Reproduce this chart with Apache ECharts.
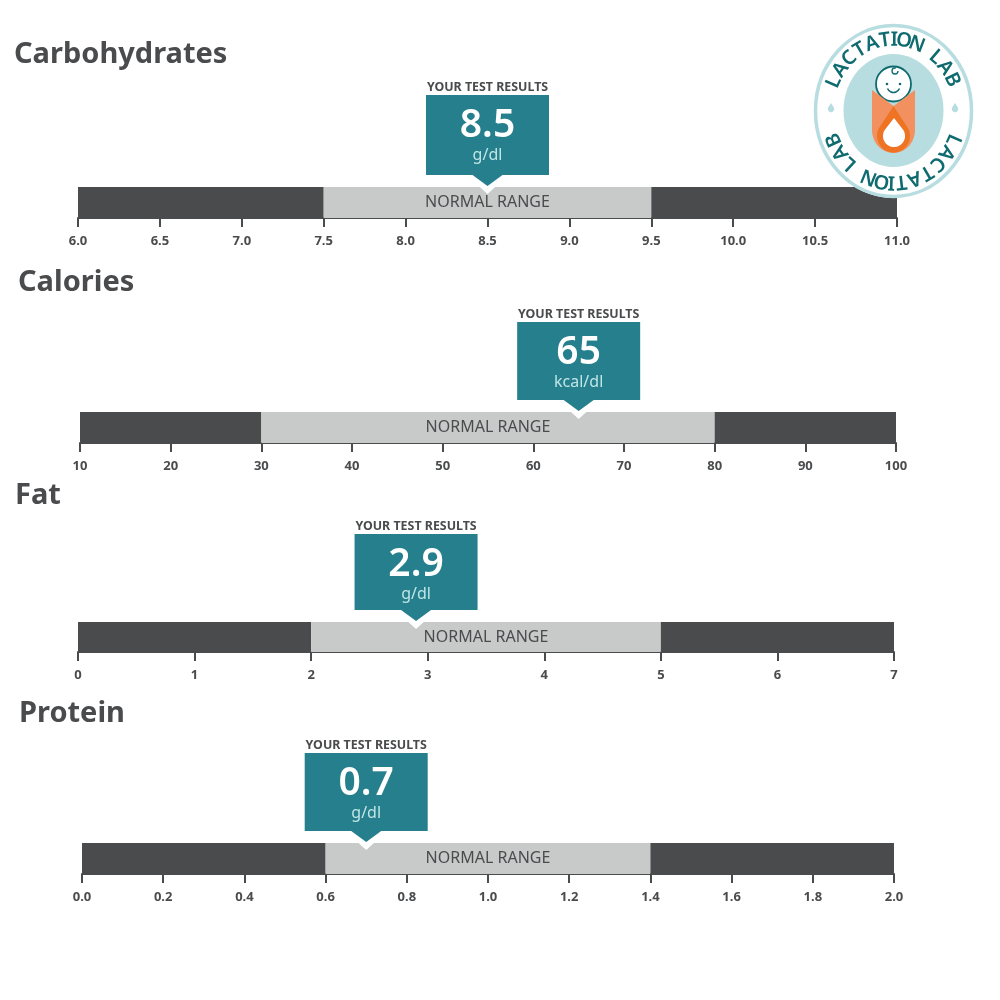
<!DOCTYPE html>
<html><head><meta charset="utf-8">
<style>html,body{margin:0;padding:0;background:#fff}#c{width:1000px;height:1000px}</style>
<script src="https://cdn.jsdelivr.net/npm/echarts@6/dist/echarts.min.js"></script>
</head><body><div id="c"></div>
<script>
const titles = ['Carbohydrates','Calories','Fat','Protein'];
const axisMin = [6,10,0,0];
const axisMax = [11,100,7,2];
const intervals = [0.5,10,1,0.2];
const decimals = [1,0,0,1];
const normalLow = [7.5,30,2,0.6];
const normalHigh = [9.5,80,5,1.4];
const results = [8.5,65,2.9,0.7];
const resultLabels = ['8.5','65','2.9','0.7'];
const units = ['g/dl','kcal/dl','g/dl','g/dl'];
const RESULT_TITLE = 'YOUR TEST RESULTS';
const RANGE_LABEL = 'NORMAL RANGE';
const LOGO_TEXT = 'LACTATION LAB';

const gridLeft = [78,80,78,82], gridRight = [897,896,894,894];
const gridTop = [187,412,622,843], gridH = [31,31,30,31];
const boxH = [80,78,76,78];
const titleX = [14,18,15,19], titleY = [55,283,496,714];
const DARK='#4a4b4d', LIGHT='#c7cac9', TEAL='#267f8c', PALE='#bfe6e6', FONT='"Noto Sans"';

const grid=[],xAxis=[],yAxis=[],series=[],title=[];
titles.forEach((t,i)=>{
  grid.push({left:gridLeft[i],top:gridTop[i],width:gridRight[i]-gridLeft[i],height:gridH[i]});
  xAxis.push({gridIndex:i,type:'value',min:axisMin[i],max:axisMax[i],interval:intervals[i],
    position:'bottom',
    splitLine:{show:false},
    axisLine:{show:true,onZero:false,lineStyle:{color:DARK,width:2}},
    axisTick:{show:true,length:9,lineStyle:{color:DARK,width:2}},
    axisLabel:{color:DARK,fontFamily:FONT,fontWeight:700,fontSize:13,margin:17,showMinLabel:true,showMaxLabel:true,
      hideOverlap:false,formatter:v=>v.toFixed(decimals[i])}});
  yAxis.push({gridIndex:i,type:'value',min:0,max:1,show:false});
  title.push({text:t,left:titleX[i],top:titleY[i]-20,padding:0,
    textStyle:{color:DARK,fontFamily:FONT,fontWeight:700,fontSize:29,lineHeight:40,height:40}});
  series.push({type:'custom',xAxisIndex:i,yAxisIndex:i,clip:false,z:2,silent:true,
    data:[[axisMin[i],normalLow[i],0],[normalLow[i],normalHigh[i],1],[normalHigh[i],axisMax[i],0]],
    encode:{x:[0,1]},
    renderItem:(p,api)=>{
      const a=api.coord([api.value(0),1]), b=api.coord([api.value(1),0]);
      const normal=api.value(2)===1;
      const children=[{type:'rect',shape:{x:a[0],y:a[1],width:b[0]-a[0],height:b[1]-a[1]},
        style:{fill:normal?LIGHT:DARK}}];
      if(normal) children.push({type:'text',style:{text:RANGE_LABEL,x:(a[0]+b[0])/2,y:(a[1]+b[1])/2,
        fill:DARK,font:'400 16px '+FONT,textAlign:'center',textVerticalAlign:'middle',verticalAlign:'middle'}});
      return {type:'group',children};
    }});
  series.push({type:'custom',xAxisIndex:i,yAxisIndex:i,clip:false,z:3,silent:true,
    data:[[results[i]]],encode:{x:0},
    renderItem:(p,api)=>{
      const c=api.coord([api.value(0),1]);
      const x=c[0], top=c[1], bb=top-12, bt=bb-boxH[i], w=61.5;
      const ctr={textAlign:'center',verticalAlign:'middle',textVerticalAlign:'middle'};
      return {type:'group',children:[
        {type:'polygon',shape:{points:[[x-21,bb],[x+21,bb],[x,bb+19]]},style:{fill:'#fff'}},
        {type:'rect',shape:{x:x-w,y:bt,width:2*w,height:bb-bt},style:{fill:TEAL}},
        {type:'polygon',shape:{points:[[x-15,bb],[x+15,bb],[x,bb+11]]},style:{fill:TEAL}},
        {type:'text',style:Object.assign({text:RESULT_TITLE,x,y:bt-8,fill:DARK,font:'700 12.4px '+FONT},ctr)},
        {type:'text',style:Object.assign({text:resultLabels[i],x,y:bt+31,fill:'#fff',font:'600 39px '+FONT},ctr)},
        {type:'text',style:Object.assign({text:units[i],x,y:bt+60,fill:PALE,font:'400 16px '+FONT},ctr)}
      ]};
    }});
});

// logo
const LX=893.5, LY=111, RING='#b7dde0', LT='#0f6b70', OR='#f2915f', OD='#ee7424';
function drop(cx,cy,r,tip){
  const pts=[[cx,tip]];
  const a0=Math.acos(r/(cy-tip));
  const start=-Math.PI/2+a0, end=3*Math.PI/2-a0;
  for(let k=0;k<=40;k++){const t=start+(end-start)*k/40;pts.push([cx+r*Math.cos(t),cy+r*Math.sin(t)]);}
  return pts;
}
function swaddle(){
  const pts=[[872,90],[893.5,106],[915,90],[915,130]];
  for(let k=1;k<40;k++){const t=Math.PI*k/40;pts.push([LX+21.5*Math.cos(t),130+23*Math.sin(t)]);}
  pts.push([872,130]);
  return pts;
}
const Z=100;
const logo=[
  {type:'ellipse',z:Z,shape:{cx:LX,cy:LY,rx:79.5,ry:87},style:{fill:'#fff'}},
  {type:'ellipse',z:Z,shape:{cx:LX,cy:LY,rx:78,ry:85.5},style:{fill:'#fff',stroke:RING,lineWidth:3.5}},
  {type:'ellipse',z:Z,shape:{cx:LX,cy:110.5,rx:50,ry:56.5},style:{fill:RING}},
  {type:'circle',z:Z,shape:{cx:893.5,cy:84,r:17.5},style:{fill:'#fff',stroke:LT,lineWidth:1.8}},
  {type:'circle',z:Z,shape:{cx:887,cy:84,r:1.3},style:{fill:LT}},
  {type:'circle',z:Z,shape:{cx:900,cy:84,r:1.3},style:{fill:LT}},
  {type:'arc',z:Z,shape:{cx:893.5,cy:86,r:6.5,startAngle:0.4,endAngle:Math.PI-0.4},style:{stroke:LT,lineWidth:1.5,fill:null}},
  {type:'arc',z:Z,shape:{cx:895,cy:71,r:3,startAngle:0,endAngle:5},style:{stroke:LT,lineWidth:1.3,fill:null}},
  {type:'polygon',z:Z,shape:{points:swaddle()},style:{fill:OR}},
  {type:'polygon',z:Z,shape:{points:drop(893.5,136,16.5,106)},style:{fill:OD}},
  {type:'polygon',z:Z,shape:{points:drop(894,136,11,118)},style:{fill:'#fff'}},
  {type:'polygon',z:Z,shape:{points:drop(831,109,3.2,103)},style:{fill:RING}},
  {type:'polygon',z:Z,shape:{points:drop(955,109,3.2,103)},style:{fill:RING}}
];
function arcText(startDeg,endDeg){
  const chars=[...LOGO_TEXT];
  const wt=c=>c==='I'?0.45:c===' '?0.7:1;
  const adv=[0];
  for(let k=1;k<chars.length;k++) adv.push(adv[k-1]+(wt(chars[k-1])+wt(chars[k]))/2);
  const total=adv[adv.length-1];
  chars.forEach((ch,k)=>{
    const th=(startDeg+(endDeg-startDeg)*adv[k]/total)*Math.PI/180;
    logo.push({type:'text',z:Z+1,x:LX+65*Math.sin(th),y:LY-71*Math.cos(th),rotation:-th,
      style:{text:ch,x:0,y:0,fill:LT,font:'600 20px '+FONT,textAlign:'center',verticalAlign:'middle',textVerticalAlign:'middle'}});
  });
}
arcText(-66,64);
arcText(114,246);

const chart=echarts.init(document.getElementById('c'),null,{renderer:'canvas'});
chart.setOption({animation:false,backgroundColor:'#fff',title,grid,xAxis,yAxis,series,graphic:{elements:logo},tooltip:{show:false}});
</script></body></html>
